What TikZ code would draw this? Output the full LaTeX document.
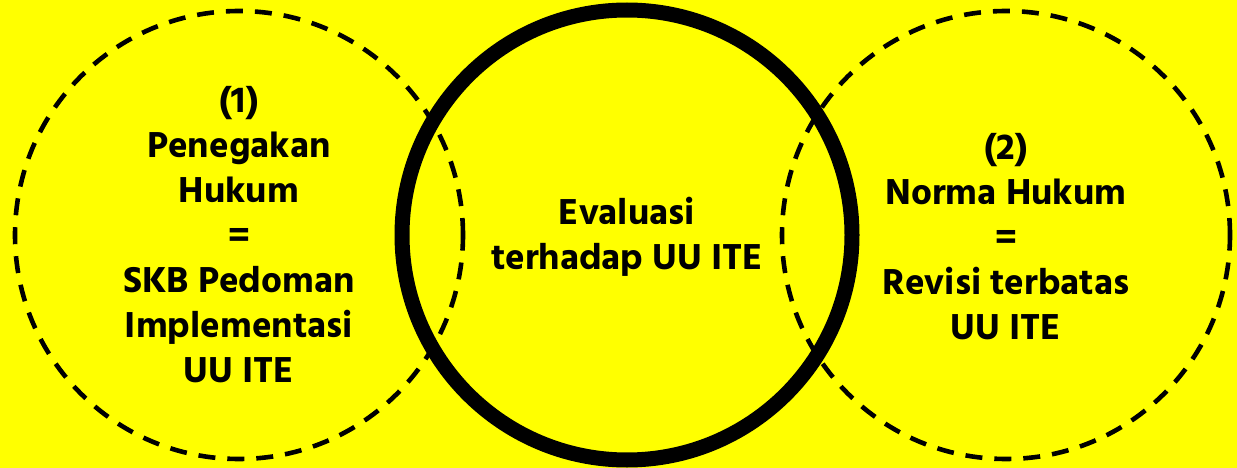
\documentclass[tikz,border=0pt]{standalone}
\usepackage{fontspec}
\setmainfont{Hind Siliguri}[BoldFont={* Bold}]
\definecolor{bgyellow}{RGB}{255,255,0}
\begin{document}
\begin{tikzpicture}[x=1pt,y=-1pt,
  dashring/.style={circle,draw=black,line width=4.6pt,dash pattern=on 17pt off 12pt,minimum size=448pt,inner sep=0pt},
  mainring/.style={circle,draw=black,line width=15pt,minimum size=450pt,inner sep=0pt},
  label/.style={align=center,font=\fontsize{37}{45}\selectfont\bfseries,text=black}]
\fill[bgyellow] (0,0) rectangle (1237,468);
\useasboundingbox (0,0) rectangle (1237,468);
\node[dashring] (left) at (239,235) {};
\node[dashring] (right) at (1006,235) {};
\node[mainring] (mid) at (627,235) {};
\node[label] (ltxt) at (239,235) {(1)\\Penegakan\\Hukum\\=\\SKB Pedoman\\Implementasi\\UU ITE};
\node[label] (mtxt) at (627,237) {Evaluasi\\terhadap UU ITE};
\node[label] (rtxt) at (1006,237) {(2)\\Norma Hukum\\=\\Revisi terbatas\\UU ITE};
\end{tikzpicture}
\end{document}
